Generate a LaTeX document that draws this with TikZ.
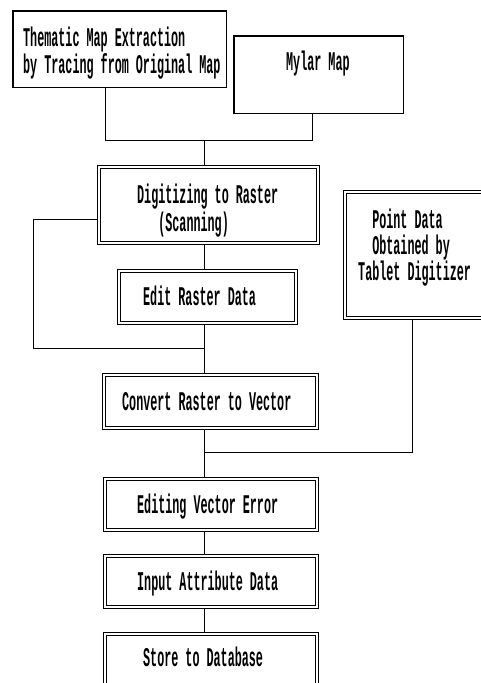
\documentclass[tikz,border=0pt]{standalone}
\usepackage{fontspec}
\newfontfamily\dmfont{Liberation Mono}[FakeStretch=0.435]
\usetikzlibrary{calc}
\pgfdeclarelayer{bg}
\pgfsetlayers{bg,main}
\begin{document}
\begin{tikzpicture}[x=1pt,y=-1pt,
  sbox/.style={draw, line width=1.5pt, rectangle, inner sep=0pt},
  dbox/.style={draw, double, double distance=2pt, line width=0.9pt, rectangle, inner sep=0pt},
  txt/.style={inner sep=0pt, anchor=base west, align=left,
    font=\dmfont\bfseries\fontsize{27}{28}\selectfont},
  conn/.style={line width=1pt}]
\clip (0,0) rectangle (481,683);
% boxes
\node[sbox, minimum width=213.5pt, minimum height=76.5pt] (them) at (119.5,49) {};
\node[sbox, minimum width=169.5pt, minimum height=77.5pt] (mylar) at (318.5,74.5) {};
\node[dbox, minimum width=219.2pt, minimum height=76.2pt] (digit) at (208.5,205) {};
\node[dbox, minimum width=177.2pt, minimum height=52.2pt] (edit) at (207.5,297) {};
\node[dbox, minimum width=143.2pt, minimum height=126.2pt] (point) at (416.5,255) {};
\node[dbox, minimum width=213.2pt, minimum height=53.2pt] (conv) at (210.5,401.5) {};
\node[dbox, minimum width=212.2pt, minimum height=51.2pt] (editv) at (211,504.5) {};
\node[dbox, minimum width=212.2pt, minimum height=51.2pt] (input) at (211,581.5) {};
\node[dbox, minimum width=212.2pt, minimum height=64.2pt] (store) at (211,666) {};
% texts (multi-line nodes: base = last line's baseline)
\node[txt, font=\dmfont\bfseries\fontsize{27}{27}\selectfont] (themT) at (23,73) {Thematic Map Extraction\\by Tracing from Original Map};
\node[txt] (mylarT) at (286,70) {Mylar Map};
\node[txt] (digitT) at (137,231) {Digitizing to Raster\\\phantom{xxx}(Scanning)};
\node[txt] (editT) at (143,305) {Edit Raster Data};
\node[txt, font=\dmfont\bfseries\fontsize{27}{26}\selectfont] (pointT) at (358,280) {\phantom{xx}Point Data\\\phantom{xx}Obtained by\\Tablet Digitizer};
\node[txt] (convT) at (122,410) {Convert Raster to Vector};
\node[txt] (editvT) at (137,513) {Editing Vector Error};
\node[txt] (inputT) at (137,590) {Input Attribute Data};
\node[txt] (storeT) at (143,666.5) {Store to Database};
% junction coordinates
\coordinate (ja) at (105,140);
\coordinate (jb) at (312,140);
\coordinate (jc) at (204,140);
\coordinate (l1) at (33,219);
\coordinate (l2) at (33,348);
\coordinate (l3) at (204,348);
\coordinate (p1) at (412,452);
\coordinate (p2) at (204,452);
\begin{pgfonlayer}{bg}
\draw[conn] (them.south -| ja) -- (ja) -- (jb) -- (mylar.south -| jb);
\draw[conn] (jc) -- (digit.north -| jc);
\draw[conn] (digit.west |- l1) -- (l1) -- (l2) -- (l3);
\draw[conn] (digit.south -| jc) -- (edit.north -| jc);
\draw[conn] (edit.south -| jc) -- (conv.north -| jc);
\draw[conn] (point.south -| p1) -- (p1) -- (p2);
\draw[conn] (conv.south -| jc) -- (editv.north -| jc);
\draw[conn] (editv.south -| jc) -- (input.north -| jc);
\draw[conn] (input.south -| jc) -- (store.north -| jc);
\end{pgfonlayer}
\end{tikzpicture}
\end{document}
